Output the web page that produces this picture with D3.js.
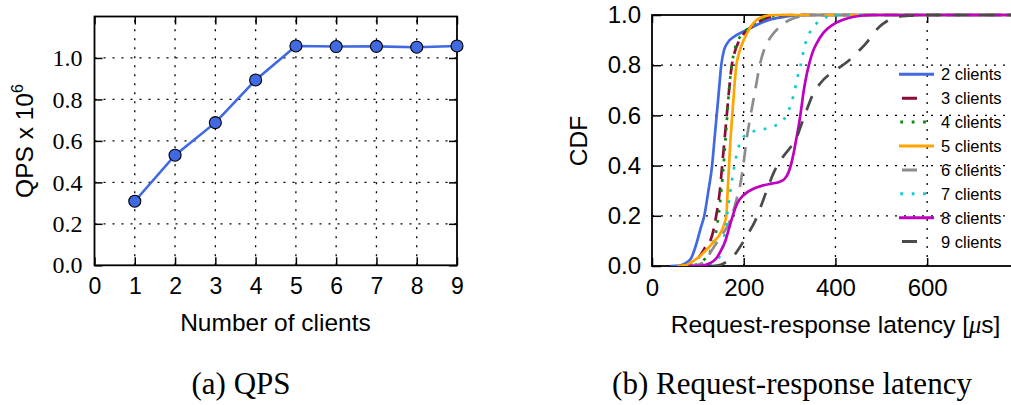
<!DOCTYPE html>
<html>
<head>
<meta charset="utf-8">
<script src="https://cdn.jsdelivr.net/npm/d3@7"></script>
<style>
  body { margin: 0; background: #fff; }
  svg { display: block; }
</style>
</head>
<body>
<div id="chart"></div>
<script>
// ---- data: (a) QPS ----
var clients = [1, 2, 3, 4, 5, 6, 7, 8, 9];
var qps = [0.309, 0.531, 0.688, 0.894, 1.058, 1.055, 1.056, 1.052, 1.058];
var clientTicks = [0, 1, 2, 3, 4, 5, 6, 7, 8, 9];
var qpsTicks = [0, 0.2, 0.4, 0.6, 0.8, 1.0];

// ---- data: (b) latency CDF, [latency us, cdf] ----
var seriesLabels = ['2 clients', '3 clients', '4 clients', '5 clients',
                    '6 clients', '7 clients', '8 clients', '9 clients'];
var cdf2 = [[40,0],[60,0.002],[70,0.008],[85,0.03],[97,0.09],[106,0.15],[114,0.2],[123,0.3],[131,0.4],[136,0.5],[141,0.6],[146,0.7],[151,0.8],[157,0.86],[165,0.89],[180,0.915],[195,0.93],[215,0.948],[240,0.97],[260,0.983],[290,0.993],[330,1]];
var cdf3 = [[60,0],[80,0.005],[95,0.02],[108,0.05],[118,0.08],[127,0.1],[135,0.15],[140,0.2],[148,0.3],[153,0.4],[158,0.5],[163,0.6],[168,0.7],[174,0.8],[180,0.85],[188,0.89],[200,0.925],[215,0.95],[240,0.98],[265,0.995],[300,1]];
var cdf4 = [[70,0],[95,0.005],[110,0.02],[125,0.05],[135,0.1],[141,0.15],[145,0.2],[151,0.3],[156,0.4],[160,0.5],[164,0.6],[168,0.7],[174,0.8],[180,0.86],[188,0.9],[200,0.93],[215,0.955],[235,0.98],[260,0.995],[300,1]];
var cdf5 = [[55,0],[75,0.004],[90,0.02],[105,0.04],[116,0.06],[127,0.08],[136,0.1],[146,0.12],[153,0.145],[158,0.17],[162,0.2],[165,0.3],[168,0.4],[171,0.5],[175,0.6],[179,0.7],[184,0.8],[190,0.85],[200,0.9],[208,0.93],[216,0.955],[228,0.98],[245,0.995],[265,1]];
var cdf6 = [[80,0],[100,0.005],[115,0.02],[126,0.05],[140,0.09],[155,0.13],[165,0.16],[174,0.2],[185,0.27],[193,0.33],[199,0.4],[206,0.5],[213,0.58],[220,0.65],[227,0.72],[235,0.8],[245,0.865],[260,0.915],[280,0.955],[300,0.98],[320,0.993],[350,1]];
var cdf7 = [[100,0],[120,0.005],[135,0.015],[148,0.04],[155,0.08],[160,0.15],[165,0.22],[171,0.3],[177,0.37],[183,0.43],[190,0.48],[198,0.51],[210,0.53],[230,0.54],[255,0.55],[270,0.56],[283,0.575],[293,0.6],[302,0.64],[310,0.69],[317,0.75],[324,0.8],[332,0.87],[344,0.93],[358,0.965],[372,0.985],[392,0.997],[420,1]];
var cdf8 = [[80,0],[110,0.002],[125,0.01],[140,0.03],[150,0.06],[160,0.1],[168,0.15],[176,0.2],[186,0.25],[200,0.283],[220,0.307],[240,0.32],[260,0.328],[276,0.334],[288,0.345],[297,0.37],[304,0.41],[310,0.46],[315,0.51],[320,0.56],[325,0.62],[331,0.7],[337,0.76],[342,0.8],[350,0.85],[360,0.89],[374,0.93],[393,0.96],[415,0.98],[440,0.993],[480,1]];
var cdf9 = [[130,0],[150,0.005],[165,0.02],[180,0.045],[195,0.085],[210,0.13],[225,0.18],[240,0.25],[252,0.31],[265,0.37],[278,0.415],[292,0.45],[305,0.48],[315,0.51],[325,0.56],[335,0.61],[350,0.68],[368,0.73],[388,0.765],[408,0.79],[430,0.82],[450,0.855],[468,0.89],[482,0.925],[497,0.955],[512,0.975],[530,0.99],[560,0.997],[590,1]];
var cdfSeries = [cdf2, cdf3, cdf4, cdf5, cdf6, cdf7, cdf8, cdf9];
var latencyTicks = [0, 200, 400, 600];
var cdfTicks = [0, 0.2, 0.4, 0.6, 0.8, 1.0];

// ---- styles ----
var lineColors = ['#4169e1', '#8b0a3c', '#0a8a0a', '#ffa500', '#8c8c8c', '#10cccc', '#c000c0', '#4a4a4a'];
var lineDash = [null, '13,8', '2.8,7.5', null, '15,10', '2.8,8.5', null, '15,12'];
var legendDash = [null, '0,3,15,40', '2.8,8.6', null, '0,3,15,40', '2.8,8.6', null, '0,3,15,40'];

var sans = '"Liberation Sans", Arial, Helvetica, sans-serif';
var serif = '"Liberation Serif", "Times New Roman", serif';
var grid_dash = '2,7';

var svg = d3.select('#chart').append('svg')
    .attr('width', 1011)
    .attr('height', 405);

// ======================= (a) QPS =======================
var xA = d3.scaleLinear().domain([0, 9]).range([94.5, 457]);
var yA = d3.scaleLinear().domain([0, 1.2]).range([265.3, 16.5]);

var gA = svg.append('g');

// grid
gA.selectAll('.vgrid').data(clientTicks.slice(1, -1)).enter().append('line')
    .attr('x1', function(d) { return xA(d); })
    .attr('x2', function(d) { return xA(d); })
    .attr('y1', yA(0)).attr('y2', yA(1.2))
    .attr('stroke', '#000').attr('stroke-width', 1.3)
    .attr('stroke-dasharray', grid_dash);
gA.selectAll('.hgrid').data(qpsTicks.slice(1)).enter().append('line')
    .attr('y1', function(d) { return yA(d); })
    .attr('y2', function(d) { return yA(d); })
    .attr('x1', xA(0)).attr('x2', xA(9))
    .attr('stroke', '#000').attr('stroke-width', 1.3)
    .attr('stroke-dasharray', grid_dash);

// axes (inward ticks)
var axA_bottom = gA.append('g')
    .attr('transform', 'translate(0,' + yA(0) + ')')
    .call(d3.axisBottom(xA).tickValues(clientTicks).tickSize(-8).tickPadding(12).tickFormat(d3.format('d')));
var axA_top = gA.append('g')
    .attr('transform', 'translate(0,' + yA(1.2) + ')')
    .call(d3.axisTop(xA).tickValues(clientTicks).tickSize(-8).tickFormat(''));
var axA_left = gA.append('g')
    .attr('transform', 'translate(' + xA(0) + ',0)')
    .call(d3.axisLeft(yA).tickValues(qpsTicks).tickSize(-8).tickPadding(12).tickFormat(d3.format('.1f')));
var axA_right = gA.append('g')
    .attr('transform', 'translate(' + xA(9) + ',0)')
    .call(d3.axisRight(yA).tickValues(qpsTicks).tickSize(-8).tickFormat(''));

axA_bottom.selectAll('text').attr('font-family', sans).attr('font-size', 23).attr('fill', '#000');
axA_left.selectAll('text').attr('font-family', serif).attr('font-size', 24).attr('fill', '#000');
gA.selectAll('.domain').remove();
gA.selectAll('.tick line').attr('stroke', '#000').attr('stroke-width', 1.5);

// frame
gA.append('rect')
    .attr('x', xA(0)).attr('y', yA(1.2))
    .attr('width', xA(9) - xA(0)).attr('height', yA(0) - yA(1.2))
    .attr('fill', 'none').attr('stroke', '#000').attr('stroke-width', 1.8);

// line + markers
var lineA = d3.line()
    .x(function(d, i) { return xA(clients[i]); })
    .y(function(d) { return yA(d); });
gA.append('path').datum(qps)
    .attr('d', lineA)
    .attr('fill', 'none').attr('stroke', '#4169e1').attr('stroke-width', 2.6);
gA.selectAll('circle').data(qps).enter().append('circle')
    .attr('cx', function(d, i) { return xA(clients[i]); })
    .attr('cy', function(d) { return yA(d); })
    .attr('r', 6)
    .attr('fill', '#4169e1').attr('stroke', '#000').attr('stroke-width', 1.1);

// labels
gA.append('text')
    .attr('x', 275.5).attr('y', 331)
    .attr('text-anchor', 'middle')
    .attr('font-family', sans).attr('font-size', 24.5)
    .text('Number of clients');
var yLabA = gA.append('text')
    .attr('transform', 'translate(33,141) rotate(-90)')
    .attr('text-anchor', 'middle')
    .attr('font-family', sans).attr('font-size', 24.5)
    .text('QPS x 10');
yLabA.append('tspan').attr('dy', -10).attr('font-size', 16).text('6');

// ======================= (b) latency CDF =======================
var xB = d3.scaleLinear().domain([0, 785]).range([652, 1012]);
var yB = d3.scaleLinear().domain([0, 1]).range([266, 15]);

var gB = svg.append('g');

gB.selectAll('.vgrid').data(latencyTicks.slice(1)).enter().append('line')
    .attr('x1', function(d) { return xB(d); })
    .attr('x2', function(d) { return xB(d); })
    .attr('y1', yB(0)).attr('y2', yB(1))
    .attr('stroke', '#000').attr('stroke-width', 1.3)
    .attr('stroke-dasharray', grid_dash);
gB.selectAll('.hgrid').data(cdfTicks.slice(1, -1)).enter().append('line')
    .attr('y1', function(d) { return yB(d); })
    .attr('y2', function(d) { return yB(d); })
    .attr('x1', xB(0)).attr('x2', 1011)
    .attr('stroke', '#000').attr('stroke-width', 1.3)
    .attr('stroke-dasharray', grid_dash);

var axB_bottom = gB.append('g')
    .attr('transform', 'translate(0,' + yB(0) + ')')
    .call(d3.axisBottom(xB).tickValues(latencyTicks).tickSize(-8).tickPadding(12.5).tickFormat(d3.format('d')));
var axB_top = gB.append('g')
    .attr('transform', 'translate(0,' + yB(1) + ')')
    .call(d3.axisTop(xB).tickValues(latencyTicks).tickSize(-8).tickFormat(''));
var axB_left = gB.append('g')
    .attr('transform', 'translate(' + xB(0) + ',0)')
    .call(d3.axisLeft(yB).tickValues(cdfTicks).tickSize(-9).tickPadding(11).tickFormat(d3.format('.1f')));

axB_bottom.selectAll('text').attr('font-family', sans).attr('font-size', 24).attr('fill', '#000');
axB_left.selectAll('text').attr('font-family', sans).attr('font-size', 24).attr('fill', '#000');
gB.selectAll('.domain').remove();
gB.selectAll('.tick line').attr('stroke', '#000').attr('stroke-width', 1.5);

gB.append('rect')
    .attr('x', xB(0)).attr('y', yB(1))
    .attr('width', xB(785) - xB(0) + 10).attr('height', yB(0) - yB(1))
    .attr('fill', 'none').attr('stroke', '#000').attr('stroke-width', 1.8);

// legend (drawn under the curves, no box)
var legend = gB.append('g');
seriesLabels.forEach(function(name, i) {
    var yy = 74.3 + i * 23.9;
    legend.append('line')
        .attr('x1', 899).attr('x2', 934)
        .attr('y1', yy).attr('y2', yy)
        .attr('stroke', lineColors[i]).attr('stroke-width', 3)
        .attr('stroke-dasharray', legendDash[i])
        .attr('stroke-dashoffset', legendDash[i] === '2.8,8.6' ? 10.1 : 0);
    legend.append('text')
        .attr('x', 941).attr('y', yy)
        .attr('dy', '0.36em')
        .attr('font-family', sans).attr('font-size', 16.5)
        .text(name);
});

// curves
svg.append('clipPath').attr('id', 'clipB')
    .append('rect')
    .attr('x', xB(0)).attr('y', yB(1) - 3)
    .attr('width', 400).attr('height', yB(0) - yB(1) + 3);

var lineB = d3.line()
    .x(function(d) { return xB(d[0]); })
    .y(function(d) { return yB(d[1]); })
    .curve(d3.curveMonotoneX);

var curves = gB.append('g').attr('clip-path', 'url(#clipB)');
cdfSeries.forEach(function(s, i) {
    var pts = s.concat([[785, 1]]);
    curves.append('path').datum(pts)
        .attr('d', lineB)
        .attr('fill', 'none')
        .attr('stroke', lineColors[i])
        .attr('stroke-width', 2.7)
        .attr('stroke-dasharray', lineDash[i]);
});

gB.append('text')
    .attr('x', 835.5).attr('y', 333)
    .attr('text-anchor', 'middle')
    .attr('font-family', sans).attr('font-size', 24.5)
    .text('Request-response latency [')
    .call(function(t) {
        t.append('tspan').attr('font-family', serif).attr('font-style', 'italic').text('\u03bc');
        t.append('tspan').text('s]');
    });
gB.append('text')
    .attr('transform', 'translate(587,141) rotate(-90)')
    .attr('text-anchor', 'middle')
    .attr('font-family', sans).attr('font-size', 24.5)
    .text('CDF');

// ---- captions ----
svg.append('text')
    .attr('x', 241).attr('y', 394)
    .attr('text-anchor', 'middle')
    .attr('font-family', serif).attr('font-size', 31)
    .text('(a) QPS');
svg.append('text')
    .attr('x', 792).attr('y', 394)
    .attr('text-anchor', 'middle')
    .attr('font-family', serif).attr('font-size', 31)
    .text('(b) Request-response latency');
</script>
</body>
</html>
